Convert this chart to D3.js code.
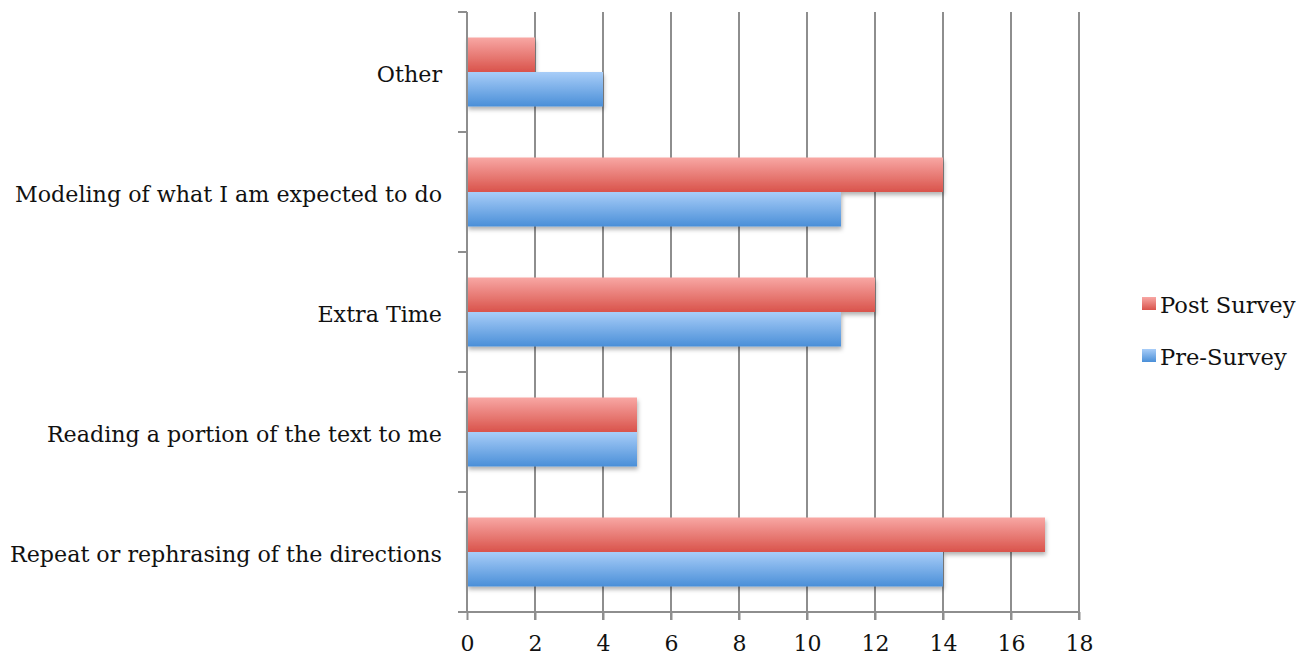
<!DOCTYPE html>
<html>
<head>
<meta charset="utf-8">
<script src="https://cdn.jsdelivr.net/npm/d3@7"></script>
<style>
  html, body { margin: 0; padding: 0; background: #fff; }
  svg { display: block; }
  text { font-family: "DejaVu Serif", "Liberation Serif", serif; fill: #111; }
</style>
</head>
<body>
<svg id="chart" width="1303" height="658"></svg>
<script>
// Categories listed top to bottom
const categories = [
  "Other",
  "Modeling of what I am expected to do",
  "Extra Time",
  "Reading a portion of the text to me",
  "Repeat or rephrasing of the directions"
];
const seriesNames = ["Post Survey", "Pre-Survey"];
const postSurvey = [2, 14, 12, 5, 17];
const preSurvey = [4, 11, 11, 5, 14];
const xTicks = [0, 2, 4, 6, 8, 10, 12, 14, 16, 18];

const svg = d3.select("#chart");
const plotLeft = 467, plotRight = 1079, plotTop = 12, plotBottom = 612;
const labelSize = 22.2;
const legendSize = 22.6;

const x = d3.scaleLinear().domain([0, 18]).range([plotLeft, plotRight]);
const y = d3.scaleBand().domain(categories).range([plotTop, plotBottom])
  .paddingInner(0.425).paddingOuter(0.2125);
const ySub = d3.scaleBand().domain(seriesNames).range([0, y.bandwidth()]);

const defs = svg.append("defs");
const gradients = [["#f8a7a4", "#d9534b"], ["#a8cdf8", "#4a8fd8"]];
gradients.forEach(([c0, c1], i) => {
  const g = defs.append("linearGradient").attr("id", "grad" + i)
    .attr("x1", 0).attr("y1", 0).attr("x2", 0).attr("y2", 1);
  g.append("stop").attr("offset", "0%").attr("stop-color", c0);
  g.append("stop").attr("offset", "100%").attr("stop-color", c1);
});
const shadow = defs.append("filter").attr("id", "shadow")
  .attr("x", "-5%").attr("y", "-20%").attr("width", "115%").attr("height", "160%");
shadow.append("feDropShadow").attr("dx", 1).attr("dy", 3)
  .attr("stdDeviation", 2).attr("flood-color", "#000").attr("flood-opacity", 0.3);

const gridColor = "#8e8e8e";

// vertical gridlines, continuing below the axis as tick marks
svg.append("g").selectAll("line").data(xTicks.filter(d => d > 0)).join("line")
  .attr("x1", d => x(d)).attr("x2", d => x(d))
  .attr("y1", plotTop).attr("y2", plotBottom + 8)
  .attr("stroke", gridColor).attr("stroke-width", 2);

// bars
const series = [
  { name: "Post Survey", values: postSurvey, grad: "url(#grad0)" },
  { name: "Pre-Survey", values: preSurvey, grad: "url(#grad1)" }
];
const barG = svg.append("g").attr("filter", "url(#shadow)");
series.forEach(s => {
  barG.append("g").selectAll("rect").data(categories).join("rect")
    .attr("x", x(0))
    .attr("y", c => y(c) + ySub(s.name))
    .attr("width", (c, i) => x(s.values[i]) - x(0))
    .attr("height", ySub.bandwidth())
    .attr("fill", s.grad);
});

// bottom axis
const xAxis = svg.append("g").attr("transform", `translate(0,${plotBottom})`)
  .call(d3.axisBottom(x).tickValues(xTicks).tickSize(8).tickPadding(15).tickFormat(d3.format("d")));
xAxis.select(".domain").remove();
xAxis.selectAll(".tick line").attr("stroke", gridColor).attr("stroke-width", 2);
xAxis.selectAll(".tick text").attr("font-size", 22)
  .attr("font-family", "DejaVu Serif").attr("fill", "#111");
svg.append("line").attr("x1", plotLeft - 8).attr("x2", plotRight)
  .attr("y1", plotBottom).attr("y2", plotBottom)
  .attr("stroke", gridColor).attr("stroke-width", 2);

// left axis with tick marks at band boundaries
svg.append("line").attr("x1", plotLeft).attr("x2", plotLeft)
  .attr("y1", plotTop).attr("y2", plotBottom)
  .attr("stroke", gridColor).attr("stroke-width", 2);
const bandEdges = d3.range(categories.length + 1).map(i => plotTop + i * y.step());
svg.append("g").selectAll("line").data(bandEdges).join("line")
  .attr("x1", plotLeft - 9).attr("x2", plotLeft).attr("y1", d => d).attr("y2", d => d)
  .attr("stroke", gridColor).attr("stroke-width", 2);

// category labels
svg.append("g").selectAll("text").data(categories).join("text")
  .attr("x", 442).attr("y", c => y(c) + y.bandwidth() / 2 + 4)
  .attr("text-anchor", "end").attr("dominant-baseline", "middle")
  .attr("font-size", labelSize).text(c => c);

// legend
const legend = svg.append("g");
series.forEach((s, i) => {
  const ly = 306 + i * 52;
  legend.append("rect").attr("x", 1142).attr("y", ly - 9).attr("width", 14).attr("height", 13)
    .attr("fill", s.grad);
  legend.append("text").attr("x", 1160).attr("y", ly + 1).attr("dominant-baseline", "middle")
    .attr("font-size", legendSize).text(s.name);
});
</script>
</body>
</html>
